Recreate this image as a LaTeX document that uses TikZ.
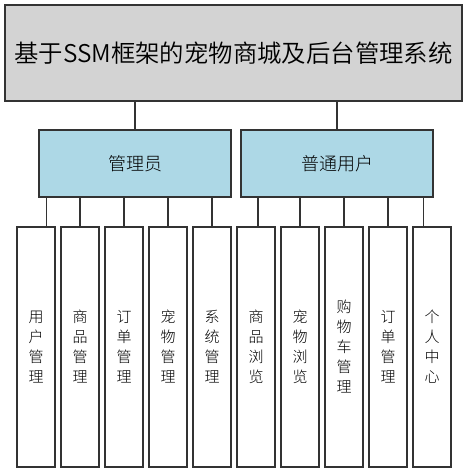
\documentclass[tikz,border=0pt]{standalone}
\usepackage{fontspec}
\setmainfont{Noto Sans CJK SC}
\newfontfamily\lightcjk{Noto Sans CJK SC Light}
\newfontfamily\demicjk{Noto Sans CJK SC DemiLight}
\usepackage{tikz}
\usetikzlibrary{positioning}
\definecolor{boxgray}{HTML}{D3D3D3}
\definecolor{boxblue}{HTML}{ADD8E6}
\definecolor{lineclr}{HTML}{333333}

\begin{document}
\begin{tikzpicture}[x=0.75pt,y=0.75pt,line width=0.9pt,draw=lineclr,
                    systemm/.style={rectangle, minimum width=342.75pt, minimum height=72pt, text centered, draw=lineclr, fill=boxgray, font=\demicjk\fontsize{18.3}{20}\selectfont},
                    rolee/.style={rectangle, minimum width=144pt, minimum height=50.25pt, text centered, draw=lineclr, fill=boxblue, font=\lightcjk\fontsize{13.5}{16}\selectfont},
                    modulee/.style={rectangle, minimum width=28.5pt, minimum height=180pt, align=center, draw=lineclr, fill=white, inner sep=0pt, font=\lightcjk\fontsize{11.25}{15}\selectfont}]
  \useasboundingbox (0,0) rectangle (467,-473);
  \node (System) [systemm] at (233.5,-53) {基于SSM框架的宠物商城及后台管理系统};
  \node (Admin) [rolee] at (135,-163.5) {管理员};
  \node (User) [rolee, right=6.6pt of Admin] {普通用户};

  \node (M1) [modulee] at (36,-347) {用\\户\\管\\理};
  \foreach \name/\prev/\txt in {M2/M1/商\\品\\管\\理, M3/M2/订\\单\\管\\理, M4/M3/宠\\物\\管\\理,
                                M5/M4/系\\统\\管\\理, M6/M5/商\\品\\浏\\览, M7/M6/宠\\物\\浏\\览,
                                M8/M7/购\\物\\车\\管\\理, M9/M8/订\\单\\管\\理, M10/M9/个\\人\\中\\心}
    \node (\name) [modulee, right=3.6pt of \prev] {\txt};

  % system to roles
  \draw (System.south -| Admin.north) -- (Admin.north);
  \draw (System.south -| User.north) -- (User.north);

  % roles to modules
  \draw ([xshift=6pt]Admin.south west) -- ([xshift=6pt]Admin.south west |- M1.north);
  \foreach \m in {M2,M3,M4,M5}
    \draw (Admin.south -| \m.north) -- (\m.north);
  \draw ([xshift=1.5pt]User.south -| M6.north) -- ([xshift=1.5pt]M6.north);
  \foreach \m in {M7,M8,M9}
    \draw (User.south -| \m.north) -- (\m.north);
  \draw ([xshift=-7.5pt]User.south east) -- ([xshift=-7.5pt]User.south east |- M10.north);
\end{tikzpicture}
\end{document}
